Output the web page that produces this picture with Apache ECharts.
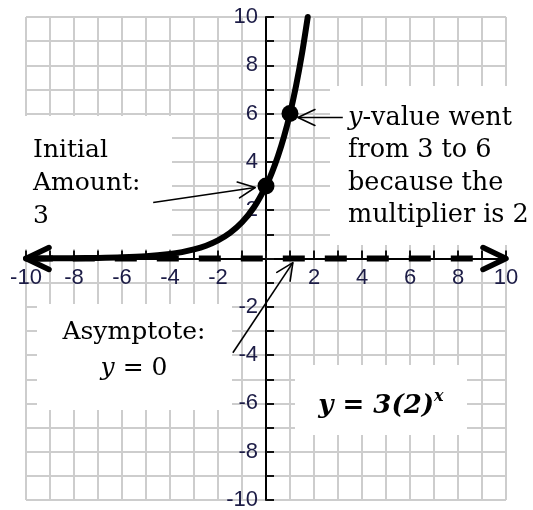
<!DOCTYPE html>
<html>
<head>
<meta charset="utf-8">
<script src="https://cdn.jsdelivr.net/npm/echarts@6/dist/echarts.min.js"></script>
<style>
  html, body { margin: 0; padding: 0; background: #fff; }
  #chart { width: 533px; height: 510px; }
</style>
</head>
<body>
<div id="chart"></div>
<script>
// Exponential growth y = 3(2)^x on a -10..10 coordinate plane
const curveX = [-10, -9, -8, -7, -6, -5, -4, -3.5, -3, -2.5, -2, -1.5, -1, -0.5, 0, 0.25, 0.5, 0.75, 1, 1.25, 1.5, 1.74];
const curveY = [0.0029, 0.0059, 0.0117, 0.0234, 0.0469, 0.0938, 0.1875, 0.2652, 0.375, 0.5303, 0.75, 1.0607, 1.5, 2.1213, 3, 3.5676, 4.2426, 5.0454, 6, 7.1352, 8.4853, 10];

// Highlighted points: initial amount and the next value
const pointX = [0, 1];
const pointY = [3, 6];

// Horizontal asymptote y = 0 (dashed segment)
const asymptoteX = [-9.8, 8.65];
const asymptoteY = [0, 0];

// Callout arrows: [fromX, fromY, toX, toY]
const calloutArrows = [
  [-4.7, 2.32, -0.45, 2.94],
  [3.2, 5.84, 1.33, 5.84],
  [-1.38, -3.9, 1.12, -0.17]
];

// Axis end arrowheads: [fromX, fromY, toX, toY]
const axisArrows = [
  [-9, 0, -10, 0],
  [9, 0, 10, 0]
];

const axisMin = -10, axisMax = 10, axisStep = 1;

const gridBox = { left: 26, top: 17, width: 480, height: 483 };
// Shift each axis from the grid edge onto the zero line of the other axis
const xAxisShift = -(gridBox.height * (0 - axisMin) / (axisMax - axisMin));
const yAxisShift = -(gridBox.width * (0 - axisMin) / (axisMax - axisMin));

const labelFont = { fontFamily: 'Liberation Sans, Arial, sans-serif', fontSize: 22, color: '#1c1c46' };
const serif = 'DejaVu Serif, serif';

function evenLabel(v) {
  return (v % 2 === 0 && v !== 0) ? String(v) : '';
}

function arrowRenderer(headLen, headHalf, width, withShaft) {
  return function (params, api) {
    const p0 = api.coord([api.value(0), api.value(1)]);
    const p1 = api.coord([api.value(2), api.value(3)]);
    const dx = p1[0] - p0[0], dy = p1[1] - p0[1];
    const L = Math.hypot(dx, dy) || 1;
    const ux = dx / L, uy = dy / L;
    const bx = p1[0] - ux * headLen, by = p1[1] - uy * headLen;
    const nx = -uy, ny = ux;
    const children = [];
    if (withShaft) {
      children.push({
        type: 'line',
        shape: { x1: p0[0], y1: p0[1], x2: p1[0], y2: p1[1] },
        style: { stroke: '#000', lineWidth: width }
      });
    }
    children.push({
      type: 'polyline',
      shape: { points: [[bx + nx * headHalf, by + ny * headHalf], p1, [bx - nx * headHalf, by - ny * headHalf]] },
      style: { stroke: '#000', fill: null, lineWidth: width, lineJoin: 'round', lineCap: 'round' }
    });
    return { type: 'group', children: children };
  };
}

const chart = echarts.init(document.getElementById('chart'), null, { renderer: 'canvas' });

chart.setOption({
  animation: false,
  backgroundColor: '#fff',
  grid: Object.assign({ containLabel: false, outerBoundsMode: 'none' }, gridBox),
  xAxis: {
    type: 'value', min: axisMin, max: axisMax, interval: axisStep,
    position: 'bottom', offset: xAxisShift,
    axisLine: { onZero: false, lineStyle: { color: '#000', width: 2 } },
    axisTick: { inside: true, length: 8, lineStyle: { color: '#111', width: 2 } },
    axisLabel: Object.assign({ formatter: evenLabel, margin: 8 }, labelFont),
    splitLine: { show: true, lineStyle: { color: '#cdcdcd', width: 2 } }
  },
  yAxis: {
    type: 'value', min: axisMin, max: axisMax, interval: axisStep,
    position: 'left', offset: yAxisShift,
    axisLine: { onZero: false, lineStyle: { color: '#000', width: 2 } },
    axisTick: { inside: true, length: 8, lineStyle: { color: '#111', width: 2 } },
    axisLabel: Object.assign({ formatter: evenLabel, margin: 8 }, labelFont),
    splitLine: { show: true, lineStyle: { color: '#cdcdcd', width: 2 } }
  },
  graphic: {
    elements: [
      { type: 'rect', z: 1, shape: { x: 0, y: 116, width: 172, height: 133 }, style: { fill: '#fff' } },
      { type: 'rect', z: 1, shape: { x: 37, y: 304, width: 195, height: 106 }, style: { fill: '#fff' } },
      { type: 'rect', z: 1, shape: { x: 295, y: 365, width: 172, height: 70 }, style: { fill: '#fff' } },
      { type: 'rect', z: 1, shape: { x: 330, y: 86, width: 203, height: 159 }, style: { fill: '#fff' } },
      {
        type: 'text', z: 2, x: 33, y: 134,
        style: { text: 'Initial\nAmount:\n3', font: '25px ' + serif, fill: '#000', lineHeight: 33, textVerticalAlign: 'top' }
      },
      {
        type: 'text', z: 2, x: 348, y: 102,
        style: {
          text: '{i|y}-value went\nfrom 3 to 6\nbecause the\nmultiplier is 2',
          font: '25.5px ' + serif, fill: '#000', lineHeight: 32.5, textVerticalAlign: 'top',
          rich: { i: { fontStyle: 'italic', fontSize: 25.5, fontFamily: serif, lineHeight: 32.5 } }
        }
      },
      {
        type: 'text', z: 2, x: 134, y: 314,
        style: {
          text: 'Asymptote:\n{i|y} = 0',
          font: '25px ' + serif, fill: '#000', lineHeight: 36, textAlign: 'center', textVerticalAlign: 'top',
          rich: { i: { fontStyle: 'italic', fontSize: 25, fontFamily: serif, lineHeight: 36 } }
        }
      },
      {
        type: 'text', z: 2, x: 381, y: 404,
        style: {
          text: '{m|y = 3(2)}{s|x}',
          fill: '#000', textAlign: 'center', textVerticalAlign: 'middle',
          rich: {
            m: { font: 'italic bold 26px ' + serif, fill: '#000', lineHeight: 30, verticalAlign: 'bottom' },
            s: { font: 'italic bold 16px ' + serif, fill: '#000', lineHeight: 30, verticalAlign: 'top' }
          }
        }
      }
    ]
  },
  series: [
    {
      type: 'line', z: 5, data: asymptoteX.map((x, i) => [x, asymptoteY[i]]),
      showSymbol: false, symbol: 'none', clip: false, silent: true,
      lineStyle: { color: '#000', width: 6, type: [22, 20], cap: 'butt' }
    },
    {
      type: 'line', z: 6, data: curveX.map((x, i) => [x, curveY[i]]),
      smooth: 0.3, showSymbol: false, symbol: 'none', clip: false, silent: true,
      lineStyle: { color: '#000', width: 6, cap: 'round' }
    },
    {
      type: 'scatter', z: 7, data: pointX.map((x, i) => [x, pointY[i]]),
      symbol: 'circle', symbolSize: 17, itemStyle: { color: '#000', opacity: 1 }, silent: true
    },
    {
      type: 'custom', z: 8, clip: false, silent: true, data: calloutArrows,
      encode: { x: [0, 2], y: [1, 3] },
      renderItem: arrowRenderer(17, 8, 1.6, true)
    },
    {
      type: 'custom', z: 8, clip: false, silent: true, data: axisArrows,
      encode: { x: [0, 2], y: [1, 3] },
      renderItem: arrowRenderer(23, 11, 5.5, false)
    }
  ]
});
</script>
</body>
</html>
